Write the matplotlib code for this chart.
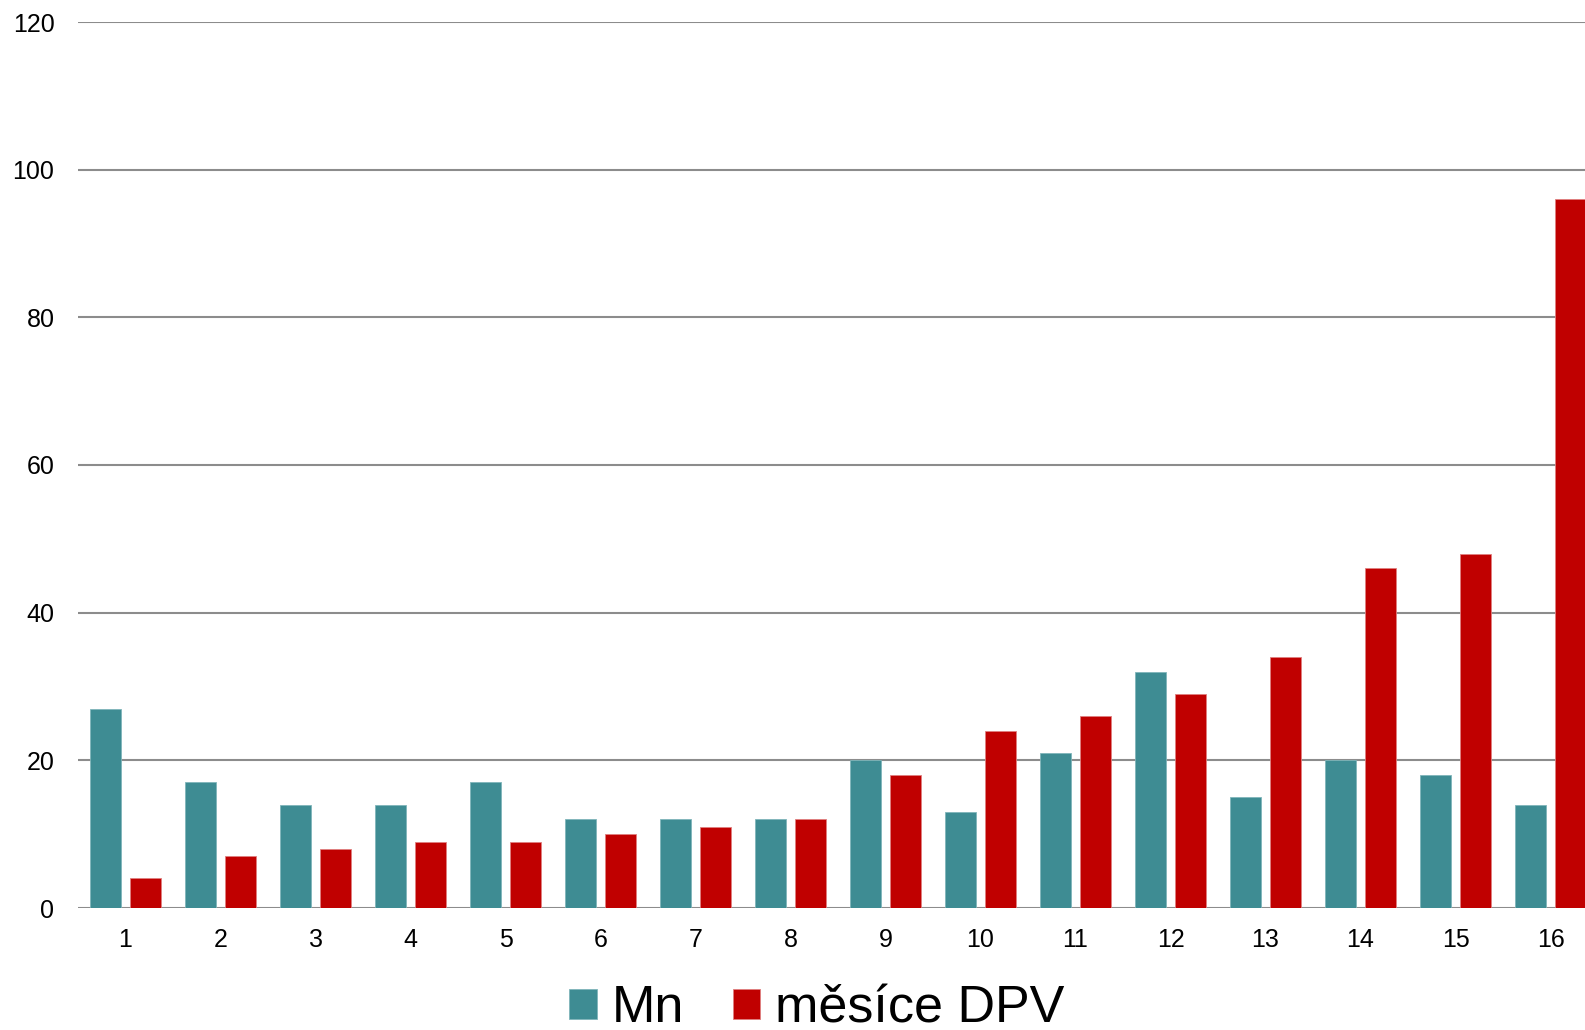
import numpy as np
import matplotlib
matplotlib.use("Agg")
import matplotlib.pyplot as plt

# data
categories = [str(i) for i in range(1, 17)]
mn = [27, 17, 14, 14, 17, 12, 12, 12, 20, 13, 21, 32, 15, 20, 18, 14]
dpv = [4, 7, 8, 9, 9, 10, 11, 12, 18, 24, 26, 29, 34, 46, 48, 96]
series_names = ["Mn", "měsíce DPV"]
colors = ["#3E8C93", "#C00000"]

plt.rcParams["font.family"] = ["Liberation Sans", "DejaVu Sans"]

W, H = 1585, 1030
fig = plt.figure(figsize=(W / 100, H / 100), dpi=100)
# plot area runs a bit past the right edge, as in the reference
ax = fig.add_axes([78 / W, (H - 908) / H, 1520 / W, (908 - 22) / H])

x = np.arange(len(categories))
width = 0.335
ax.bar(x - 0.21, mn, width, color=colors[0], edgecolor="#7fb5ba",
       linewidth=0.6, label=series_names[0], zorder=3)
ax.bar(x + 0.21, dpv, width, color=colors[1], edgecolor="#e08080",
       linewidth=0.6, label=series_names[1], zorder=3)

ax.set_xlim(-0.5, len(categories) - 0.5)
ax.set_ylim(0, 120)
ax.set_yticks(range(0, 121, 20))
ax.set_xticks(x)
ax.set_xticklabels(categories)

ax.grid(axis="y", color="#8c8c8c", linewidth=1.5, zorder=0)
for s in ax.spines.values():
    s.set_visible(False)
ax.tick_params(axis="both", length=0, labelsize=18, colors="black")
ax.tick_params(axis="y", pad=17)
ax.tick_params(axis="x", pad=14.5)

fig.legend(loc="center", bbox_to_anchor=(817 / W, 1 - 1009 / H),
           ncol=2, frameon=False, fontsize=37.5,
           handlelength=0.52, handleheight=0.52,
           handletextpad=0.29, columnspacing=0.94)

fig.savefig("out.png", dpi=100)
